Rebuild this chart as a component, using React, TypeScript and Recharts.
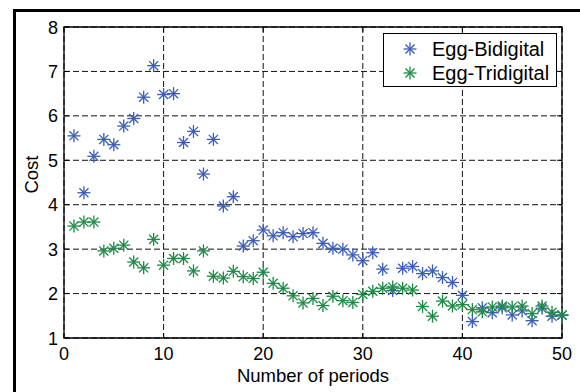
import { ScatterChart, Scatter, XAxis, YAxis, CartesianGrid, ReferenceArea, Label } from "recharts";

const periods = [
  1, 2, 3, 4, 5, 6, 7, 8, 9, 10, 11, 12, 13, 14, 15, 16, 17, 18, 19, 20, 21, 22, 23, 24, 25,
  26, 27, 28, 29, 30, 31, 32, 33, 34, 35, 36, 37, 38, 39, 40, 41, 42, 43, 44, 45, 46, 47, 48, 49, 50,
];

const bidigital = [
  5.55, 4.27, 5.09, 5.47, 5.35, 5.77, 5.94, 6.42, 7.13, 6.48, 6.5, 5.4, 5.65, 4.69, 5.47, 3.97, 4.18,
  3.07, 3.19, 3.43, 3.3, 3.37, 3.28, 3.35, 3.37, 3.13, 3.02, 3.0, 2.87, 2.74, 2.92, 2.55, 2.07, 2.57,
  2.61, 2.45, 2.51, 2.36, 2.25, 1.96, 1.37, 1.68, 1.57, 1.68, 1.52, 1.61, 1.39, 1.67, 1.49, 1.51,
];

const tridigital = [
  3.52, 3.61, 3.61, 2.96, 3.02, 3.09, 2.71, 2.58, 3.22, 2.64, 2.79, 2.79, 2.51, 2.96, 2.39, 2.35, 2.5,
  2.38, 2.34, 2.48, 2.23, 2.12, 1.95, 1.79, 1.89, 1.73, 1.94, 1.84, 1.8, 1.98, 2.05, 2.12, 2.15, 2.12,
  2.08, 1.71, 1.49, 1.83, 1.72, 1.75, 1.64, 1.59, 1.7, 1.72, 1.7, 1.72, 1.55, 1.72, 1.58, 1.52,
];

const xTicks = [0, 10, 20, 30, 40, 50];
const yTicks = [1, 2, 3, 4, 5, 6, 7, 8];

const BLUE = "#3b5cb8";
const GREEN = "#1d8a45";
const FONT = "'Liberation Sans', Arial, sans-serif";

const bidigitalData = periods.map((p, i) => ({ x: p, y: bidigital[i] }));
const tridigitalData = periods.map((p, i) => ({ x: p, y: tridigital[i] }));

// plot box edges (for the inward tick marks)
const TOP = 27;
const BOTTOM = 338;
const LEFT = 64;
const RIGHT = 562;

function Star({ cx, cy, color }: { cx: number; cy: number; color: string }) {
  const r = 6.5;
  const d = r * 0.7;
  return (
    <g stroke={color} strokeWidth={1.3} fill="none">
      <line x1={cx} y1={cy - r} x2={cx} y2={cy + r} />
      <line x1={cx - r} y1={cy} x2={cx + r} y2={cy} />
      <line x1={cx - d} y1={cy - d} x2={cx + d} y2={cy + d} />
      <line x1={cx - d} y1={cy + d} x2={cx + d} y2={cy - d} />
    </g>
  );
}

function XTick(props: any) {
  const { x, payload } = props;
  return (
    <g>
      <line x1={x} y1={BOTTOM} x2={x} y2={BOTTOM - 5} stroke="#000" />
      <line x1={x} y1={TOP} x2={x} y2={TOP + 5} stroke="#000" />
      <text x={x} y={BOTTOM + 22} textAnchor="middle" fontSize={18} fontFamily={FONT} fill="#000">
        {payload.value}
      </text>
    </g>
  );
}

function YTick(props: any) {
  const { y, payload } = props;
  return (
    <g>
      <line x1={LEFT} y1={y} x2={LEFT + 5} y2={y} stroke="#000" />
      <line x1={RIGHT} y1={y} x2={RIGHT - 5} y2={y} stroke="#000" />
      <text x={LEFT - 6} y={y + 6.5} textAnchor="end" fontSize={18} fontFamily={FONT} fill="#000">
        {payload.value}
      </text>
    </g>
  );
}

export default function App() {
  return (
    <div style={{ position: "absolute", left: 0, top: 0, width: 580, height: 392, background: "#fff", overflow: "hidden" }}>
      <div
        style={{
          position: "absolute",
          left: 13,
          top: 9,
          width: 620,
          height: 420,
          borderTop: "3px solid #000",
          borderLeft: "3px solid #000",
        }}
      />
      <ScatterChart width={580} height={392} margin={{ top: TOP, right: 580 - RIGHT, bottom: 0, left: 0 }}>
        <CartesianGrid stroke="#111" strokeDasharray="6 3" strokeWidth={1} />
        <XAxis
          type="number"
          dataKey="x"
          domain={[0, 50]}
          ticks={xTicks}
          height={392 - BOTTOM}
          tickSize={0}
          tickMargin={0}
          axisLine={false}
          tick={<XTick />}
          interval={0}
        >
          <Label value="Number of periods" position="insideBottom" offset={10} fontSize={18.5} fontFamily={FONT} fill="#000" />
        </XAxis>
        <YAxis
          type="number"
          dataKey="y"
          domain={[1, 8]}
          ticks={yTicks}
          width={LEFT}
          tickSize={0}
          tickMargin={0}
          axisLine={false}
          tick={<YTick />}
          interval={0}
        >
          <Label value="Cost" angle={-90} position="center" dx={-1} dy={-8} fontSize={18.5} fontFamily={FONT} fill="#000" />
        </YAxis>
        <ReferenceArea x1={0} x2={50} y1={1} y2={8} fill="none" stroke="#000" strokeWidth={1.3} ifOverflow="visible" />
        <Scatter
          name="Egg-Bidigital"
          data={bidigitalData}
          isAnimationActive={false}
          shape={(p: any) => <Star cx={p.cx} cy={p.cy} color={BLUE} />}
        />
        <Scatter
          name="Egg-Tridigital"
          data={tridigitalData}
          isAnimationActive={false}
          shape={(p: any) => <Star cx={p.cx} cy={p.cy} color={GREEN} />}
        />
      </ScatterChart>
      <div
        style={{
          position: "absolute",
          left: 383,
          top: 33,
          width: 174,
          height: 54,
          border: "1.3px solid #000",
          background: "#fff",
          fontFamily: FONT,
          fontSize: 20,
          color: "#000",
          boxSizing: "border-box",
        }}
      >
        {[
          { name: "Egg-Bidigital", color: BLUE },
          { name: "Egg-Tridigital", color: GREEN },
        ].map((item, i) => (
          <div key={item.name} style={{ position: "absolute", left: 0, top: 3 + i * 24, height: 24, display: "flex", alignItems: "center" }}>
            <svg width={48} height={24}>
              <Star cx={26} cy={12} color={item.color} />
            </svg>
            <span style={{ whiteSpace: "nowrap" }}>{item.name}</span>
          </div>
        ))}
      </div>
    </div>
  );
}
